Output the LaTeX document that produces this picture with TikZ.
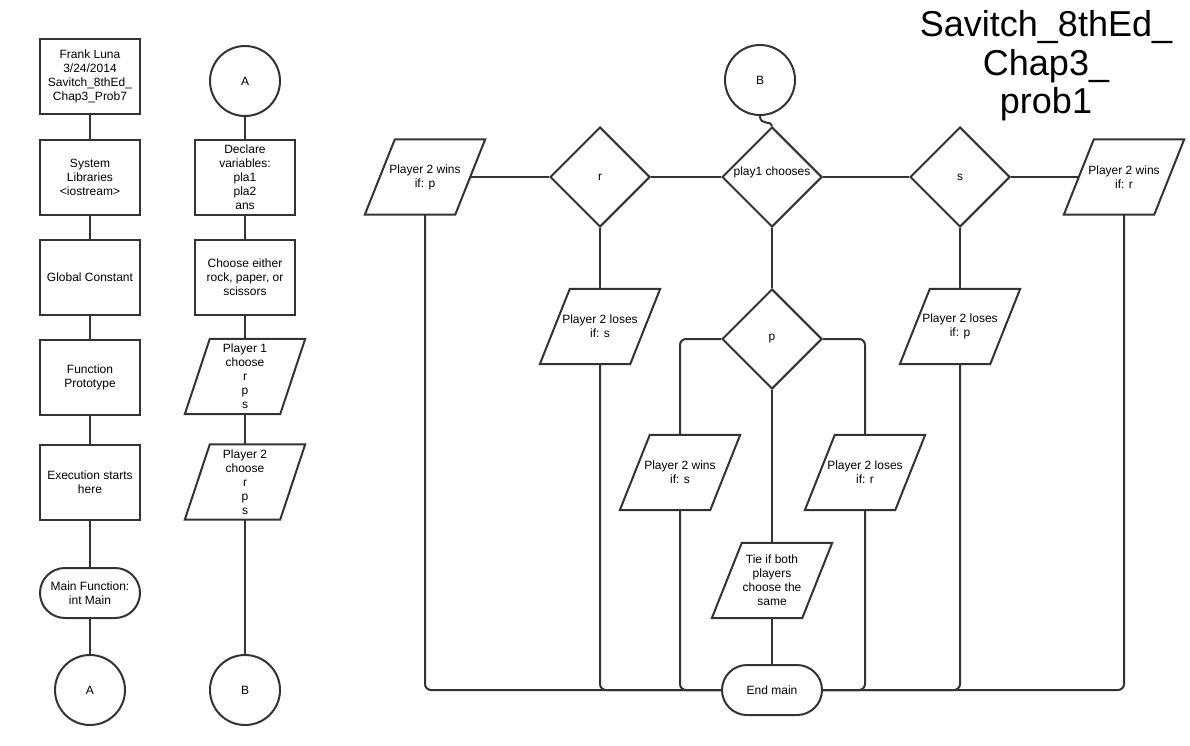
\documentclass[tikz,border=0pt]{standalone}
\usepackage{fontspec}
\setmainfont{Liberation Sans}
\usetikzlibrary{shapes.geometric}
\definecolor{lc}{HTML}{333333}
\newcommand\paranode[6]{%
  \node[ptext, minimum width=#4] (#1) at (#2,#3) {#6};
  \draw[outl] ([xshift=#5]#1.north west) -- ([xshift=#5]#1.north east) -- ([xshift=-#5]#1.south east) -- ([xshift=-#5]#1.south west) -- cycle;
}
\begin{document}
\begin{tikzpicture}[x=1pt,y=-1pt,
  every node/.style={font=\fontsize{12}{13.9}\selectfont, text=black},
  outl/.style={draw=lc, line width=2pt},
  conn/.style={draw=lc, line width=2pt},
  box/.style={outl, rectangle, minimum width=100pt, minimum height=75pt, inner sep=1pt, align=center},
  ptext/.style={rectangle, minimum height=75pt, inner sep=0pt, align=center},
  dia/.style={outl, diamond, minimum width=100pt, minimum height=100pt, inner sep=0pt},
  term/.style={outl, rectangle, rounded corners=25pt, minimum width=100pt, minimum height=50pt, inner sep=1pt, align=center},
  circ/.style={outl, circle, minimum size=70pt, inner sep=0pt}]
\useasboundingbox (0,0) rectangle (1190,745);
% column 1
\node[box] (t1) at (90,76.5) {Frank Luna\\3/24/2014\\Savitch\_8thEd\_\\Chap3\_Prob7};
\node[box] (t2) at (90,177.5) {System\\Libraries\\<iostream>};
\node[box] (t3) at (90,277) {Global Constant};
\node[box] (t4) at (90,377.5) {Function\\Prototype};
\node[box] (t5) at (90,482) {Execution starts\\here};
\node[term] (t6) at (90,593) {Main Function:\\int Main};
\node[circ] (cA) at (90,690) {A};
\draw[conn] (t1.south) -- (t2.north);
\draw[conn] (t2.south) -- (t3.north);
\draw[conn] (t3.south) -- (t4.north);
\draw[conn] (t4.south) -- (t5.north);
\draw[conn] (t5.south) -- (t6.north);
\draw[conn] (t6.south) -- (cA.north);
% column 2
\node[circ] (a2) at (245,81) {A};
\node[box] (d1) at (245,177.5) {Declare\\variables:\\pla1\\pla2\\ans};
\node[box] (d2) at (245,277) {Choose either\\rock, paper, or\\scissors};
\paranode{d3}{245}{376.5}{95pt}{12.5pt}{Player 1\\choose\\r\\p\\s}
\paranode{d4}{245}{482}{95pt}{12.5pt}{Player 2\\choose\\r\\p\\s}
\node[circ] (b2) at (245,690) {B};
\draw[conn] (a2.south) -- (d1.north);
\draw[conn] (d1.south) -- (d2.north);
\draw[conn] (d2.south) -- (d3.north);
\draw[conn] (d3.south) -- (d4.north);
\draw[conn] (d4.south) -- (b2.north);
% main flow
\node[circ] (B) at (760,80) {B};
\node[dia, label={[yshift=5pt]center:play1 chooses}] (P1) at (772,177) {};
\node[dia, label=center:r] (R) at (600,177) {};
\node[dia, label=center:s] (S) at (960,177) {};
\paranode{W1}{425}{177}{90pt}{15pt}{Player 2 wins\\if: p}
\paranode{W2}{1124}{177}{90pt}{15pt}{Player 2 wins\\if: r}
\paranode{L1}{600}{326.5}{90pt}{15pt}{Player 2 loses\\if: s}
\paranode{L3}{960}{326.5}{90pt}{15pt}{Player 2 loses\\if: p}
\node[dia, label=center:p] (pD) at (772,339) {};
\paranode{W3}{680}{472.5}{90pt}{15pt}{Player 2 wins\\if: s}
\paranode{L2}{865}{472.5}{90pt}{15pt}{Player 2 loses\\if: r}
\paranode{Tie}{772}{580.5}{90pt}{15pt}{Tie if both\\players\\choose the\\same}
\node[term] (E) at (772,690) {End main};
\draw[conn] (B.south) .. controls +(0,10) and +(0,-6) .. (P1.north);
\draw[conn] (P1.west) -- (R.east);
\draw[conn] (R.west) -- (W1.east);
\draw[conn] (P1.east) -- (S.west);
\draw[conn] (S.east) -- (W2.west);
\draw[conn] (R.south) -- (L1.north);
\draw[conn] (S.south) -- (L3.north);
\draw[conn] (P1.south) -- (pD.north);
\draw[conn, rounded corners=6pt] (pD.west) -| (W3.north);
\draw[conn, rounded corners=6pt] (pD.east) -| (L2.north);
\draw[conn] (pD.south) -- (Tie.north);
\draw[conn] (Tie.south) -- (E.north);
\draw[conn, rounded corners=6pt] (W1.south) |- (E.west);
\draw[conn, rounded corners=6pt] (L1.south) |- (E.west);
\draw[conn, rounded corners=6pt] (W3.south) |- (E.west);
\draw[conn, rounded corners=6pt] (L2.south) |- (E.east);
\draw[conn, rounded corners=6pt] (L3.south) |- (E.east);
\draw[conn, rounded corners=6pt] (W2.south) |- (E.east);
% title
\node[font=\fontsize{36}{38.5}\selectfont, align=center, inner sep=0pt] (title) at (1046,66) {Savitch\_8thEd\_\\Chap3\_\\prob1};
\end{tikzpicture}
\end{document}
